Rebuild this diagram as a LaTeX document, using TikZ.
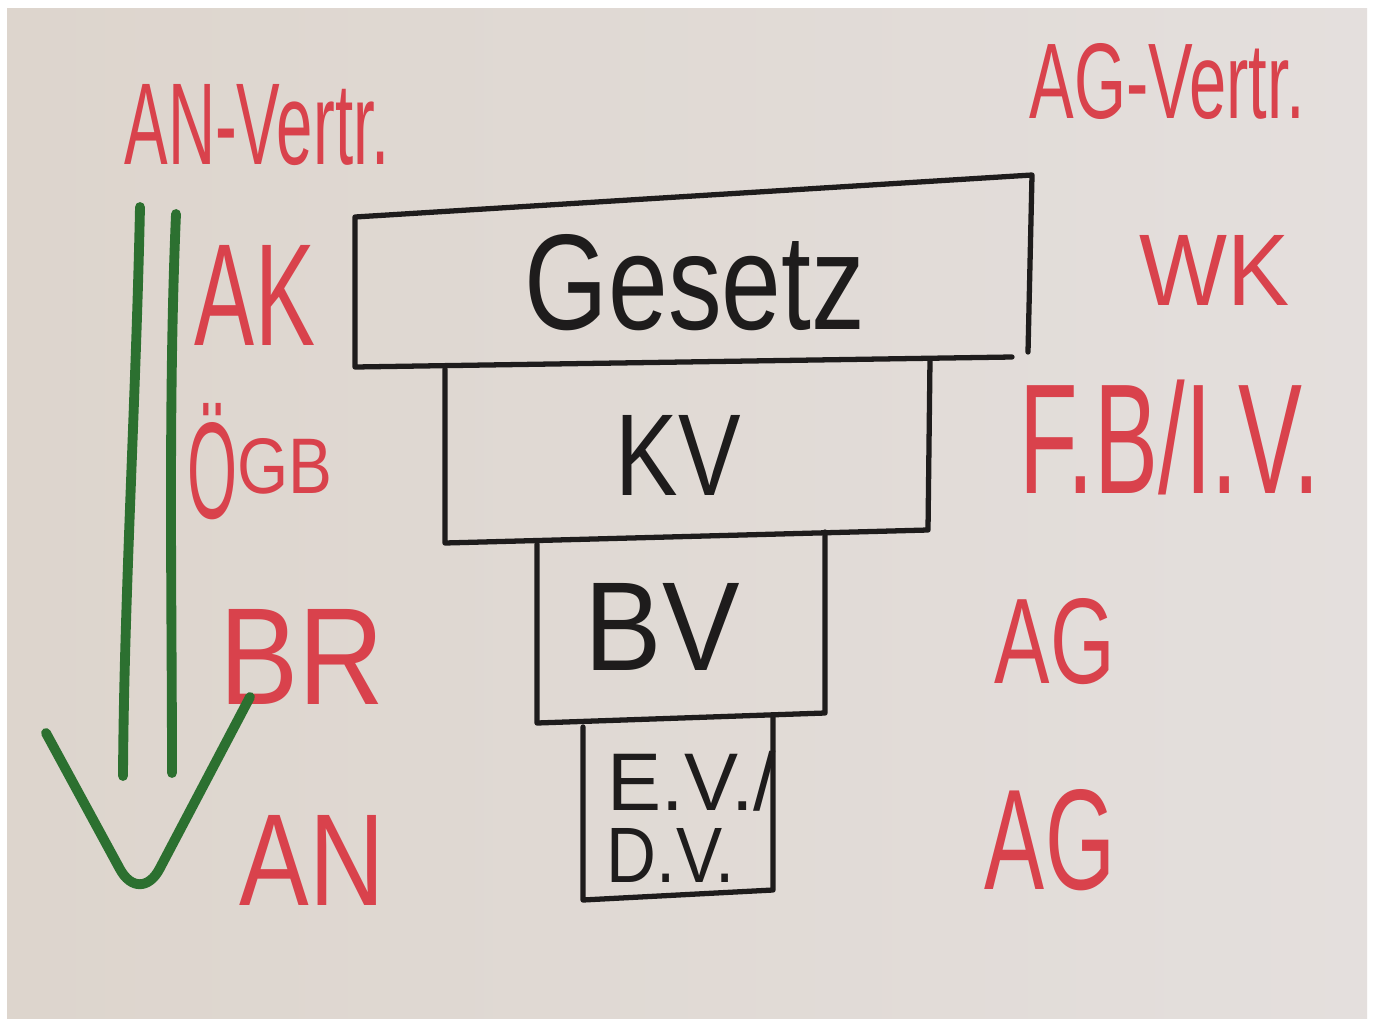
\documentclass[tikz,border=0pt]{standalone}
\usepackage{fontspec}
\usepackage{graphicx}
\setmainfont{Liberation Sans}
\definecolor{paperL}{HTML}{DDD5CD}
\definecolor{paperR}{HTML}{E4DFDD}
\definecolor{marker}{HTML}{D9424C}
\definecolor{greenmarker}{HTML}{2C7030}
\definecolor{ink}{HTML}{1E1C1C}
\tikzset{
  boxline/.style={draw=ink, line width=1.5pt, line join=round, line cap=round},
  arrowline/.style={draw=greenmarker, line width=2.8pt, line cap=round, line join=round},
  blacktext/.style={text=ink, inner sep=0pt, anchor=center},
  redtext/.style={text=marker, inner sep=0pt, anchor=center},
}
% w and h in cm: scale a label to the given box
\newcommand{\fitlabel}[3]{\resizebox{#1cm}{#2cm}{#3}}
\newcommand{\fitlabeltot}[3]{\resizebox*{#1cm}{#2cm}{#3}}
\begin{document}
\begin{tikzpicture}[x=0.01cm, y=-0.01cm]
  \useasboundingbox (0,0) rectangle (1373,1021);
  \fill[white] (0,0) rectangle (1373,1021);
  \shade[left color=paperL, right color=paperR] (7,8) rectangle (1367,1018);

  % stacked boxes
  \draw[boxline] (1012,357) -- (355,367) -- (355,217) -- (1032,175) -- (1028,352);
  \draw[boxline] (930,359) -- (928,530) -- (445,543) -- (445,369);
  \draw[boxline] (825,532) -- (825,713) -- (537,723) -- (537,544);
  \draw[boxline] (773,715) -- (773,890) -- (583,900) -- (583,727);

  % box labels
  \node[blacktext] (gesetz) at (695,283) {\fitlabel{3.4}{0.95}{Gesetz}};
  \node[blacktext] (kv) at (678,455) {\fitlabel{1.25}{0.8}{KV}};
  \node[blacktext] (bv) at (662,627) {\fitlabel{1.55}{0.87}{BV}};
  \node[blacktext] (ev) at (692,781) {\fitlabeltot{1.68}{0.6}{E.V./}};
  \node[blacktext] (dv) at (671,855) {\fitlabel{1.28}{0.54}{D.V.}};

  % employee side
  \node[redtext] (anvertr) at (257,125) {\fitlabel{2.65}{0.8}{AN-Vertr.}};
  \node[redtext] (ak) at (255,295) {\fitlabel{1.2}{1.0}{AK}};
  \node[redtext] (oegb) at (260,462)
    {\fitlabel{0.5}{1.15}{Ö}\raisebox{0.25cm}{\fitlabel{0.95}{0.55}{GB}}};
  \node[redtext] (br) at (302,657) {\fitlabel{1.65}{0.95}{BR}};
  \node[redtext] (an) at (312,860) {\fitlabel{1.45}{0.9}{AN}};

  % employer side
  \node[redtext] (agvertr) at (1167,82) {\fitlabel{2.75}{0.75}{AG-Vertr.}};
  \node[redtext] (wk) at (1215,270) {\fitlabel{1.5}{0.7}{WK}};
  \node[redtext] (fbiv) at (1170,437) {\fitlabeltot{3.0}{1.15}{F.B/I.V.}};
  \node[redtext] (ag1) at (1055,642) {\fitlabel{1.2}{0.85}{AG}};
  \node[redtext] (ag2) at (1050,840) {\fitlabel{1.3}{1.0}{AG}};

  % green downward arrow
  \coordinate (shaftAtop) at (140,207);
  \coordinate (shaftAbot) at (123,776);
  \coordinate (shaftBtop) at (176,214);
  \coordinate (shaftBbot) at (172,773);
  \coordinate (headL) at (46,733);
  \coordinate (headTip) at (140,906);
  \coordinate (headR) at (250,697);
  \draw[arrowline] (shaftAtop) .. controls (136,400) and (124,600) .. (shaftAbot);
  \draw[arrowline] (shaftBtop) .. controls (168,400) and (172,600) .. (shaftBbot);
  \draw[arrowline, rounded corners=12] (headL) -- (headTip) -- (headR);
\end{tikzpicture}
\end{document}
